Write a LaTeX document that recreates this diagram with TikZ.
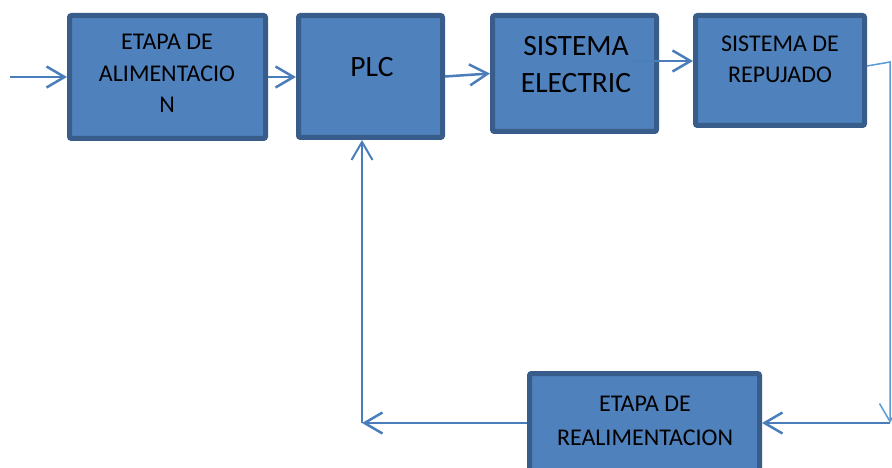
\documentclass[tikz,border=0pt]{standalone}
\usepackage{fontspec}
\setmainfont{Carlito}
\usetikzlibrary{arrows.meta}
\definecolor{boxfill}{HTML}{4F81BD}
\definecolor{boxedge}{HTML}{385D8A}
\definecolor{flow}{HTML}{4A7EBB}
\definecolor{flowlight}{HTML}{5B9BD5}
\begin{document}
\begin{tikzpicture}[x=1pt,y=-1pt,
  block/.style={draw=boxedge, fill=boxfill, line width=5pt, rounded corners=2pt,
    inner sep=0pt, anchor=center},
  % captions are placed by the baseline of their last line
  boxtext/.style={anchor=base, align=center, inner sep=0pt,
    font=\fontsize{24}{32}\selectfont},
  bigtext/.style={anchor=base, align=center, inner sep=0pt,
    font=\fontsize{29.5}{37}\selectfont},
  barb/.style={-{Straight Barb[length=18pt,width=21pt]}},
  flowarrow/.style={draw=flow, line width=2.5pt, barb},
  thinflow/.style={draw=flowlight, line width=1.5pt},
]
\useasboundingbox (0,0) rectangle (892,468);

% blocks
\node[block, minimum width=196pt, minimum height=123pt] (alim) at (167.5,77) {};
\node[block, minimum width=144pt, minimum height=122pt] (plc)  at (370.5,76.5) {};
\node[block, minimum width=164pt, minimum height=116pt] (elec) at (574.5,73.5) {};
\node[block, minimum width=169pt, minimum height=110pt] (rep)  at (780,70.5) {};
\node[block, minimum width=230pt, minimum height=102pt] (feed) at (644.5,424.5) {};

% block captions
\node[boxtext, font=\fontsize{24}{31.5}\selectfont] (alimtxt) at (167,113) {ETAPA DE\\ALIMENTACIO\\N};
\node[bigtext] (plctxt)  at (372,77) {PLC};
\node[bigtext] (electxt) at (576,93) {SISTEMA\\ELECTRIC};
\node[boxtext, font=\fontsize{24}{31}\selectfont] (reptxt) at (780,83) {SISTEMA DE\\REPUJADO};
\node[boxtext, font=\fontsize{24}{34.5}\selectfont] (feedtxt) at (645,445.5) {ETAPA DE\\REALIMENTACION};

% free ends and corners of the connectors
\coordinate (in) at (10,77);
\coordinate (c3) at (632,61);
\coordinate (r0) at (867,66);
\coordinate (r1) at (890,62);
\coordinate (r2) at (890,423);
\coordinate (f1) at (362,423);

% forward path
\draw[flowarrow] (in) -- (in -| alim.west);
\draw[flowarrow] (alim.east |- in) -- (in -| plc.west);
\draw[flowarrow] (plc.east) -- (elec.west);
\draw[flowarrow] (c3) -- (c3 -| rep.west);

% feedback loop
\draw[thinflow, barb] (r0) -- (r1) -- (r2);
\draw[flowarrow] (r2) -- (r2 -| feed.east);
\draw[flowarrow] (feed.west |- f1) -- (f1);
\draw[thinflow, draw=flow, line width=2pt, barb] (f1) -- (f1 |- plc.south);
\end{tikzpicture}
\end{document}
